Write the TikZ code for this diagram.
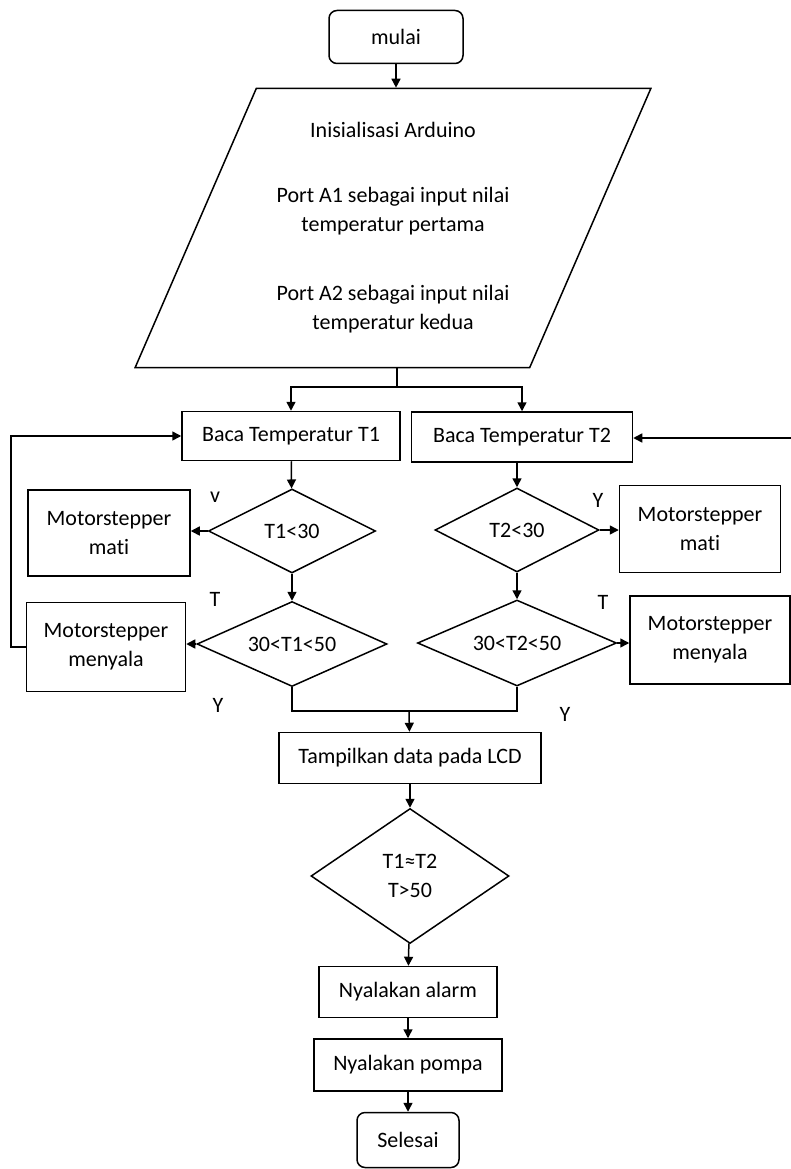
\documentclass[tikz,border=0pt]{standalone}
\usepackage{fontspec}
\setmainfont{Carlito}[Ligatures=NoCommon]
\usetikzlibrary{shapes.geometric,arrows.meta}

\begin{document}
\begin{tikzpicture}[
	x=1pt,
	y=-1pt,
	every node/.style={
		font=\fontsize{22}{29}\selectfont
	},
	terminal/.style={
		rectangle,
		draw=black,
		line width=1.5pt,
		rounded corners=8pt,
		align=center
	},
	process/.style={
		rectangle,
		draw=black,
		line width=1.5pt,
		align=center,
		inner sep=0pt
	},
	decision/.style={
		diamond,
		draw=black,
		line width=1.5pt,
		align=center,
		aspect=2,
		inner sep=0pt
	},
	io/.style={
		trapezium,
		trapezium left angle=64,
		trapezium right angle=116,
		trapezium stretches=true,
		draw=black,
		line width=1.5pt,
		align=center
	},
	flow/.style={
		line width=1.5pt,
		-{Triangle[length=9pt,width=9pt]}
	},
	line/.style={
		line width=1.5pt
	}
]
\useasboundingbox (0,0) rectangle (791,1169);

\node[terminal, minimum width=134pt, minimum height=53pt] (mulai) at (396, 37) {mulai};
\node[io, minimum width=516pt, minimum height=279pt] (init) at (393, 228) {Inisialisasi Arduino\\[36pt]Port A1 sebagai input nilai\\temperatur pertama\\[40pt]Port A2 sebagai input nilai\\temperatur kedua};

\node[process, minimum width=218pt, minimum height=49pt] (baca1) at (291, 436) {Baca Temperatur T1};
\node[process, minimum width=221pt, minimum height=50pt] (baca2) at (522, 437) {Baca Temperatur T2};

\node[decision, minimum width=167pt, minimum height=84pt] (cek1a) at (292, 531) {T1<30};
\node[decision, minimum width=190pt, minimum height=85pt] (cek1b) at (292, 644) {30<T1<50};
\node[process, minimum width=162pt, minimum height=86pt] (mati1) at (109, 533) {Motorstepper\\mati};
\node[process, minimum width=159pt, minimum height=89pt] (nyala1) at (106, 647) {Motorstepper\\menyala};

\node[decision, minimum width=164pt, minimum height=84pt] (cek2a) at (517, 530) {T2<30};
\node[decision, minimum width=199pt, minimum height=86pt] (cek2b) at (517, 643) {30<T2<50};
\node[process, minimum width=161pt, minimum height=87pt] (mati2) at (700, 529) {Motorstepper\\mati};
\node[process, minimum width=160pt, minimum height=88pt] (nyala2) at (710, 640) {Motorstepper\\menyala};

\node[process, minimum width=262pt, minimum height=51pt] (tampil) at (410, 758) {Tampilkan data pada LCD};
\node[decision, minimum width=198pt, minimum height=135pt] (cek3) at (410, 876) {T1≈T2\\T>50};
\node[process, minimum width=178pt, minimum height=51pt] (alarm) at (408, 992) {Nyalakan alarm};
\node[process, minimum width=188pt, minimum height=52pt] (pompa) at (408, 1065) {Nyalakan pompa};
\node[terminal, minimum width=102pt, minimum height=55pt] (selesai) at (408, 1140) {Selesai};

\node (ya1) at (215, 497) {v};
\node (tidak1) at (215, 599) {T};
\node (ya2) at (598, 500) {Y};
\node (tidak2) at (603, 602) {T};
\node (ya3) at (218, 705) {Y};
\node (ya4) at (565, 714) {Y};

\coordinate (split) at (397, 387);
\coordinate (merge) at (409, 711);
\coordinate (loopR) at (791, 438);

\draw[flow] (mulai) -- (mulai.south |- init.north);
\draw[line] (init.south -| split) -- (split);
\draw[flow] (split) -| (baca1);
\draw[flow] (split) -| (baca2);

\draw[flow] (baca1) -- (cek1a);
\draw[flow] (cek1a.west) -- (cek1a.west -| mati1.east);
\draw[flow] (cek1a) -- (cek1b);
\draw[flow] (cek1b.west) -- (cek1b.west -| nyala1.east);
\draw[flow] (nyala1.west) -- ++(-15,0) |- (baca1.west);

\draw[flow] (baca2.south -| cek2a) -- (cek2a);
\draw[flow] (cek2a.east) -- (cek2a.east -| mati2.west);
\draw[flow] (cek2a) -- (cek2b);
\draw[flow] (cek2b.east) -- (cek2b.east -| nyala2.west);
\draw[flow] (loopR) -- (loopR -| baca2.east);

\draw[line] (cek1b.south) |- (merge) -| (cek2b.south);
\draw[flow] (merge) -- (tampil);
\draw[flow] (tampil) -- (cek3);
\draw[flow] (cek3) -- (alarm);
\draw[flow] (alarm) -- (pompa);
\draw[flow] (pompa) -- (selesai);

\end{tikzpicture}
\end{document}
